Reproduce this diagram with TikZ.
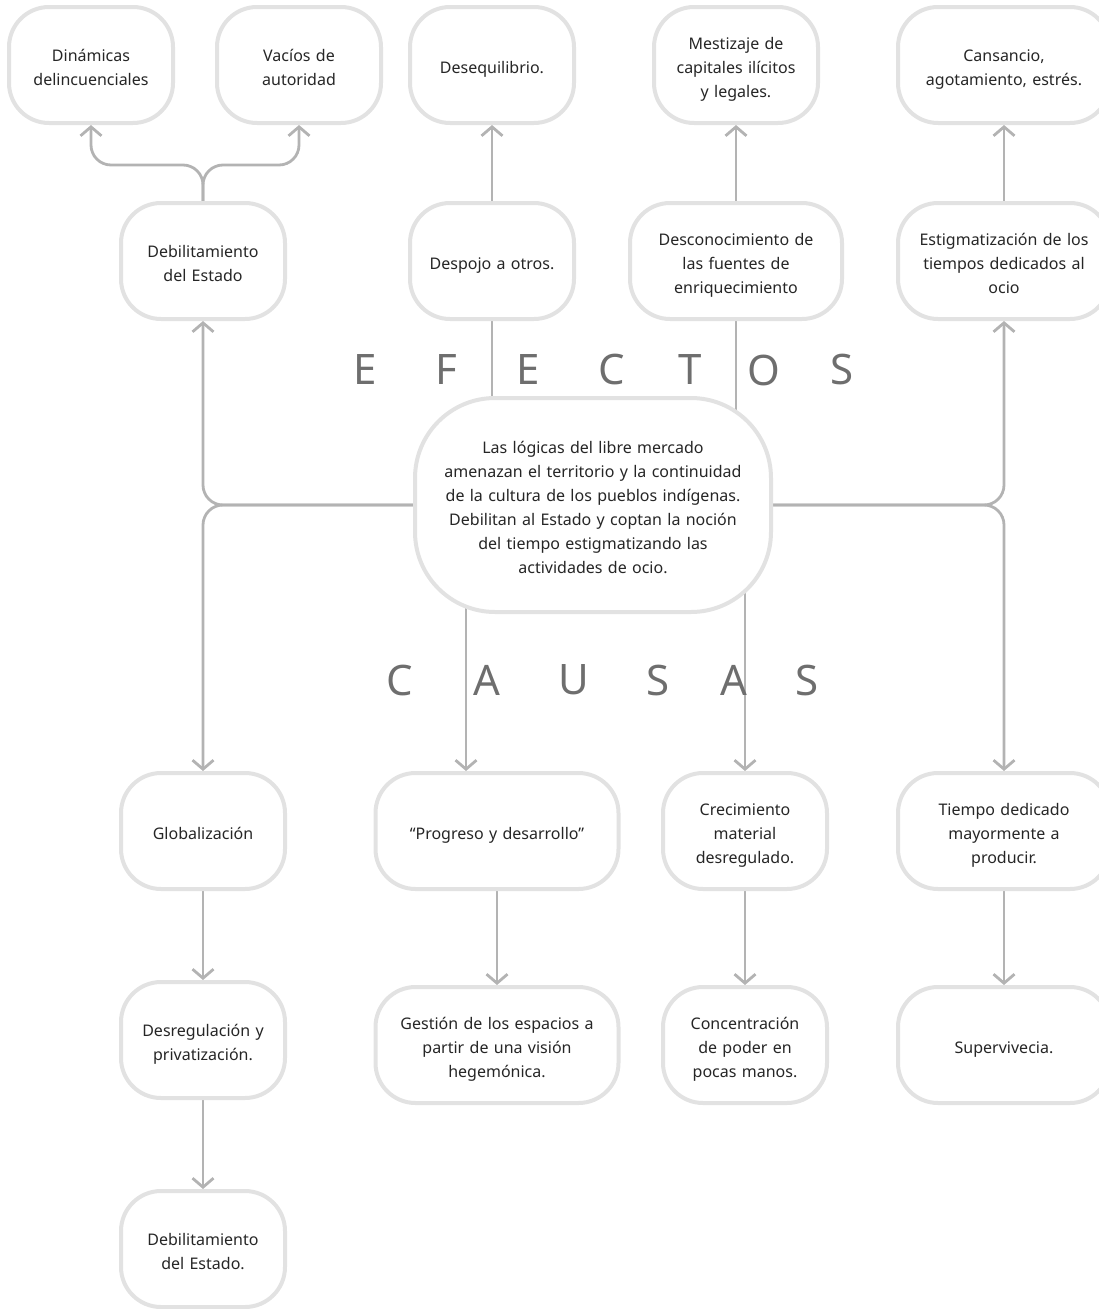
\documentclass[tikz,border=0pt]{standalone}
\usepackage{fontspec}
\setmainfont{Noto Sans}
\usetikzlibrary{arrows.meta,backgrounds}
\definecolor{boxline}{HTML}{E2E2E2}
\definecolor{conline}{HTML}{B3B3B3}
\definecolor{txt}{HTML}{262626}
\definecolor{bigtxt}{HTML}{6E6E6E}
\begin{document}
\begin{tikzpicture}[x=1pt,y=-1pt,
box/.style={draw=boxline,line width=4pt,fill=white,rounded corners=40pt,minimum width=164pt,minimum height=116pt,text width=156pt,align=center,text=txt,font=\fontsize{16}{24}\selectfont,
  execute at begin node={\noindent\rule{0pt}{22pt}},execute at end node={\rule[-6pt]{0pt}{6pt}}},
wide/.style={box,minimum width=212pt,text width=204pt},
long/.style={box,minimum width=243pt,text width=235pt},
big/.style={text=bigtxt,font=\fontsize{42}{42}\selectfont},
conn/.style={draw=conline,line width=2.8pt},
arr/.style={conn,-{Straight Barb[length=9pt,width=21pt]}}]
\useasboundingbox (0,0) rectangle (1098,1309);
% efectos
\node[box] (dinam) at (91,65) {Dinámicas\\delincuenciales};
\node[box] (vacios) at (299,65) {Vacíos de\\autoridad};
\node[box] (deseq) at (492,65) {Desequilibrio.};
\node[box] (mestiz) at (736,65) {Mestizaje de\\capitales ilícitos\\y legales.};
\node[wide] (cans) at (1004,65) {Cansancio,\\agotamiento, estrés.};
\node[box] (deb) at (203,261) {Debilitamiento\\del Estado};
\node[box] (despojo) at (492,261) {Despojo a otros.};
\node[wide] (descon) at (736,261) {Desconocimiento de\\las fuentes de\\enriquecimiento};
\node[wide] (estig) at (1004,261) {Estigmatización de los\\tiempos dedicados al\\ocio};
% problema central
\node[box,minimum width=356pt,minimum height=214pt,text width=348pt,rounded corners=80pt] (central) at (593,505)
  {Las lógicas del libre mercado\\amenazan el territorio y la continuidad\\de la cultura de los pueblos indígenas.\\Debilitan al Estado y coptan la noción\\del tiempo estigmatizando las\\actividades de ocio.};
\foreach \l/\x [count=\i] in {E/365,F/446,E/528,C/612,T/690,O/764,S/842}
  \node[big] (efe\i) at (\x,370) {\l};
\foreach \l/\x [count=\i] in {C/400,A/487,U/574,S/658,A/734,S/807}
  \node[big] (cau\i) at (\x,680) {\l};
% causas
\node[box] (glob) at (203,831) {Globalización};
\node[long] (prog) at (497,831) {“Progreso y desarrollo”};
\node[box] (crec) at (745,831) {Crecimiento\\material\\desregulado.};
\node[wide] (tiempo) at (1004,831) {Tiempo dedicado\\mayormente a\\producir.};
\node[box] (desreg) at (203,1040) {Desregulación y\\privatización.};
\node[long] (gestion) at (497,1045) {Gestión de los espacios a\\partir de una visión\\hegemónica.};
\node[box] (concen) at (745,1045) {Concentración\\de poder en\\pocas manos.};
\node[wide] (superv) at (1004,1045) {Supervivecia.};
\node[box] (deb2) at (203,1249) {Debilitamiento\\del Estado.};
\begin{scope}[on background layer]
\draw[arr,rounded corners=20pt] (central.west) -| (deb.south);
\draw[arr,rounded corners=20pt] (central.west) -| (glob.north);
\draw[arr,rounded corners=20pt] (central.east) -| (estig.south);
\draw[arr,rounded corners=20pt] (central.east) -| (tiempo.north);
\draw[arr,rounded corners=20pt] (deb.north) -- ++(0,-36) -| (dinam.south);
\draw[arr,rounded corners=20pt] (deb.north) -- ++(0,-36) -| (vacios.south);
\draw[arr] (despojo.north) -- (deseq.south);
\draw[arr] (descon.north) -- (mestiz.south);
\draw[arr] (estig.north) -- (cans.south);
\draw[conn] (despojo.south) -- (despojo.south |- central.center);
\draw[conn] (descon.south) -- (descon.south |- central.center);
\draw[arr] ([xshift=-31pt]prog.north |- central.center) -- ([xshift=-31pt]prog.north);
\draw[arr] (crec.north |- central.center) -- (crec.north);
\draw[arr] (glob.south) -- (desreg.north);
\draw[arr] (desreg.south) -- (deb2.north);
\draw[arr] (prog.south) -- (gestion.north);
\draw[arr] (crec.south) -- (concen.north);
\draw[arr] (tiempo.south) -- (superv.north);
\end{scope}
\end{tikzpicture}
\end{document}
